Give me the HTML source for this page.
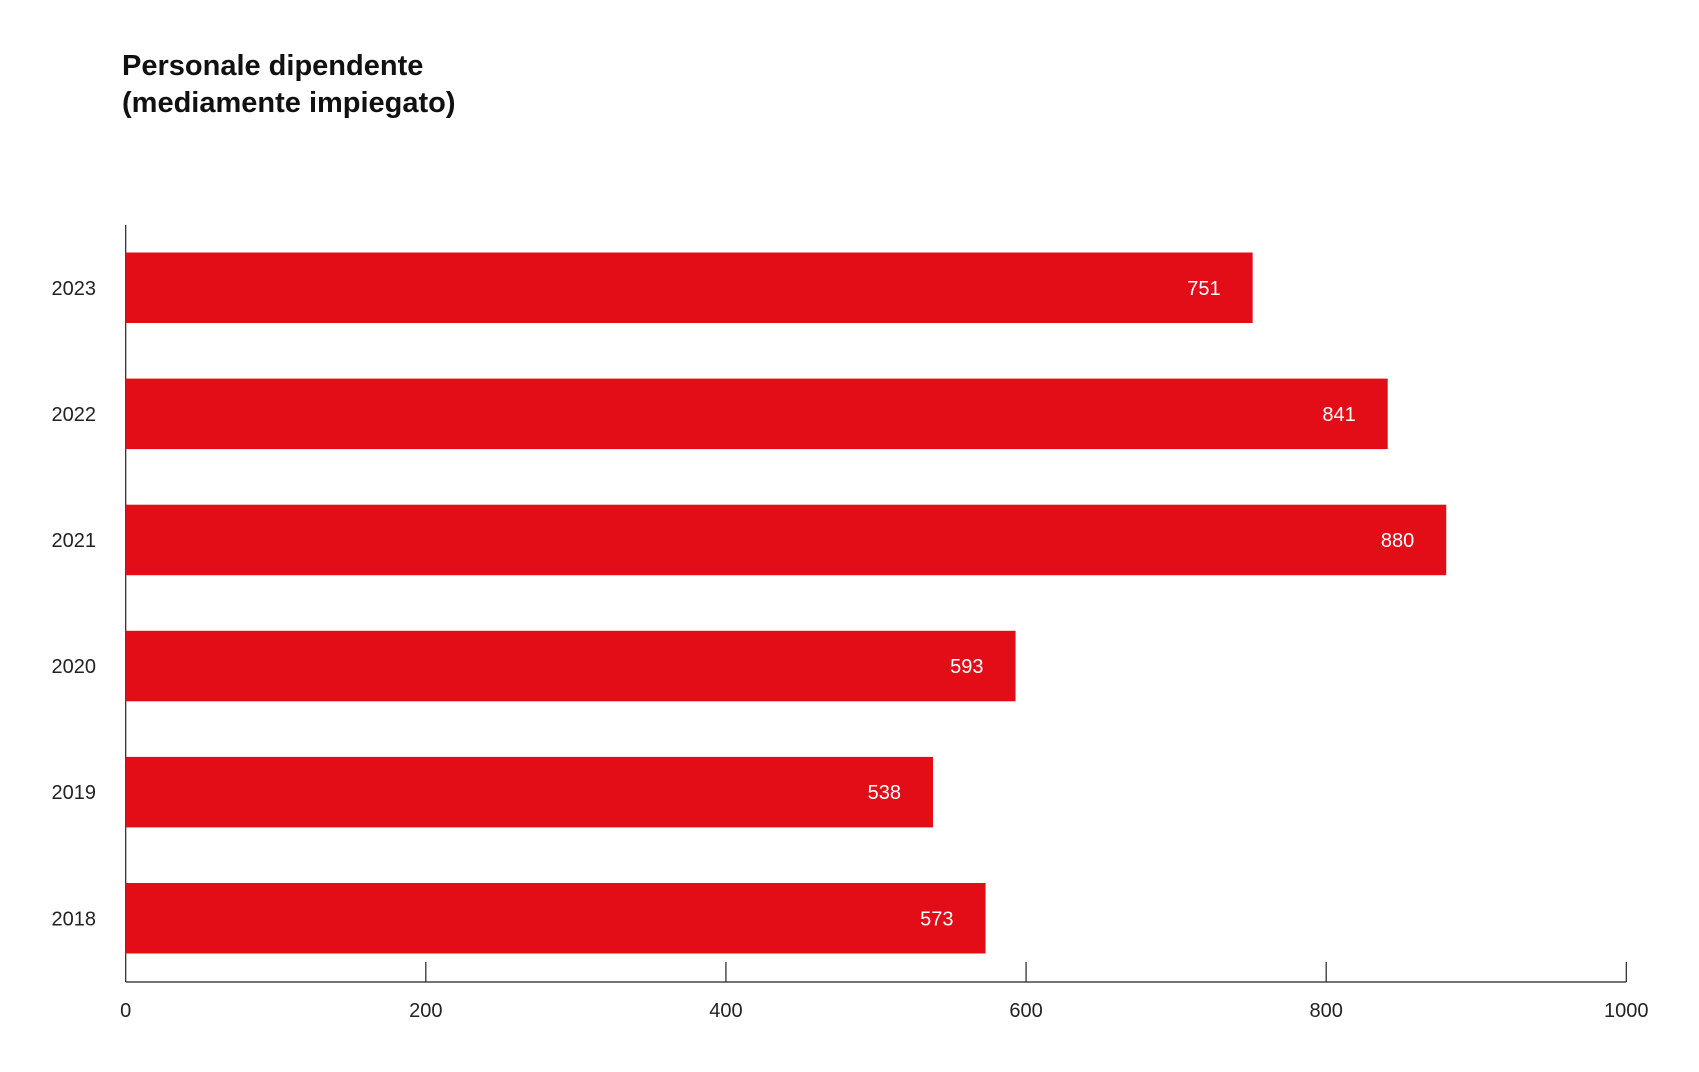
<!DOCTYPE html>
<html><head><meta charset="utf-8"><style>
html,body{margin:0;padding:0;background:#fff;}
svg{display:block;font-family:"Liberation Sans",sans-serif;}
</style></head><body>
<svg id="chart" width="1699" height="1072" viewBox="0 0 1699 1072">
<text x="122" y="75" font-size="29" font-weight="bold" fill="#111">Personale dipendente</text>
<text x="122" y="112" font-size="29" font-weight="bold" fill="#111">(mediamente impiegato)</text>
<g id="plot"></g>
</svg>
<script>
const categories = ["2023","2022","2021","2020","2019","2018"];
const values = [751, 841, 880, 593, 538, 573];
const ticks = [0, 200, 400, 600, 800, 1000];

const NS = "http://www.w3.org/2000/svg";
const g = document.getElementById("plot");
const x0 = 125.7, x1 = 1626.3, xMax = 1000;
const xs = v => x0 + (v / xMax) * (x1 - x0);
const firstTop = 252.5, step = 126.1, barH = 70.5;
const axisY = 982;

function mk(tag, attrs){ const e = document.createElementNS(NS, tag); for (const k in attrs) e.setAttribute(k, attrs[k]); g.appendChild(e); return e; }

const yl = mk("line", {x1:x0, x2:x0, y1:225, y2:axisY, stroke:"#222", "stroke-width":1.2});


const xl = mk("line", {x1:x0, x2:x1, y1:axisY, y2:axisY, stroke:"#222", "stroke-width":1.2});



ticks.forEach(t => {
  const x = xs(t);
  if (t !== 0) {
    const tl = mk("line", {x1:x, x2:x, y1:962, y2:axisY, stroke:"#222", "stroke-width":1.2});
    
    
  }
  const tx = mk("text", {x:x, y:1017, "text-anchor":"middle", "font-size":20, fill:"#222"});
  tx.textContent = t;
  
  
});

categories.forEach((c, i) => {
  const top = firstTop + i * step;
  const r = mk("rect", {x:x0, y:top, width:xs(values[i]) - x0, height:barH, fill:"#e30d18"});
  
  
  const lab = mk("text", {x:96, y:top + barH/2 + 7, "text-anchor":"end", "font-size":20, fill:"#222"});
  lab.textContent = c;
  
  
  const vl = mk("text", {x:xs(values[i]) - 32, y:top + barH/2 + 7, "text-anchor":"end", "font-size":20, fill:"#fff"});
  vl.textContent = values[i];
  
  
});
</script>
</body></html>
